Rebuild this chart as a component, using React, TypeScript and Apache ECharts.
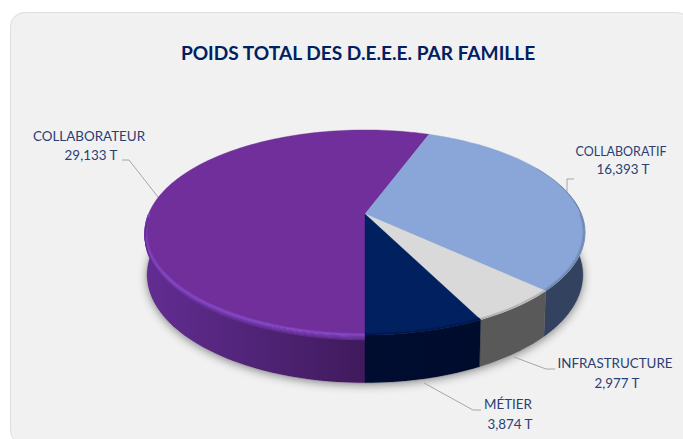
import React, { useEffect, useRef } from "react";
import * as echarts from "echarts";

const categories = ["COLLABORATEUR", "COLLABORATIF", "INFRASTRUCTURE", "MÉTIER"];
const weights = [29.133, 16.393, 2.977, 3.874];
const valueLabels = ["29,133 T", "16,393 T", "2,977 T", "3,874 T"];
const chartTitle = "POIDS TOTAL DES D.E.E.E. PAR FAMILLE";

const topColors = ["#702f9a", "#8aa6d8", "#d9d9d9", "#002060"];
const rimColors = ["#8a4ccb", "#5f7396", "#9a9a9a", "#001040"];
const sideLeft = ["#622d92", "#33435f", "#595959", "#000d30"];
const sideRight = ["#3f1a5c", "#33435f", "#595959", "#000c2c"];

const labelAnchors = [
  { xs: [89, 91], ys: [136, 155], sizes: [13.4, 13.4] },
  { xs: [621, 623], ys: [151, 169], sizes: [12.5, 13.4] },
  { xs: [615, 617], ys: [363, 383], sizes: [13.4, 13.4] },
  { xs: [508, 510], ys: [404, 424], sizes: [13.4, 13.4] },
];
const leaders = [
  [[122, 160], [129, 160], [158, 197]],
  [[567, 192], [567, 179], [574, 179]],
  [[514, 357], [546, 369], [555, 369]],
  [[424, 383], [473, 410], [481, 410]],
];

const CX = 365;
const K = 0.18;
const TOP = { a: 216.5, b: 99.2, y0: 214 };
const BOTTOM = { a: 214.4, b: 104.4, y0: 255.5 };

function project(deg: number, r: number, h: number): number[] {
  const t = (deg * Math.PI) / 180;
  const u = Math.sin(t) * r;
  const v = Math.cos(t) * r;
  const w = 1 + K * v;
  const a = TOP.a + (BOTTOM.a - TOP.a) * h;
  const b = TOP.b + (BOTTOM.b - TOP.b) * h;
  const y0 = TOP.y0 + (BOTTOM.y0 - TOP.y0) * h;
  return [CX + (a * u) / w, y0 - (b * v) / w];
}

function arc(from: number, to: number, r: number, h: number): number[][] {
  const n = Math.max(2, Math.ceil(Math.abs(to - from) / 1.5));
  const pts: number[][] = [];
  for (let i = 0; i <= n; i++) pts.push(project(from + ((to - from) * i) / n, r, h));
  return pts;
}

function hex(c: string): number[] {
  return [1, 3, 5].map((i) => parseInt(c.slice(i, i + 2), 16));
}
function mix(c1: string, c2: string, f: number): string {
  const a = hex(c1);
  const b = hex(c2);
  return `rgb(${a.map((v, i) => Math.round(v + (b[i] - v) * f)).join(",")})`;
}

const total = weights.reduce((s, v) => s + v, 0);
const rows = weights.map((w, i) => {
  const before = weights.slice(0, i).reduce((s, v) => s + v, 0);
  return [i, before / total, (before + w) / total];
});

function renderSlice(params: any, api: any) {
  const i = api.value(0);
  // Slices run clockwise from straight down (180 degrees).
  const from = 180 + api.value(1) * 360;
  const to = 180 + api.value(2) * 360;
  const children: any[] = [];

  // Visible side wall: the front half of the disc, 90..270 degrees (or 450..630).
  const ranges: number[][] = [];
  for (const off of [0, 360]) {
    const s = Math.max(from, 90 + off);
    const e = Math.min(to, 270 + off);
    if (e > s) ranges.push([s, e]);
  }
  for (const [s, e] of ranges) {
    const pts = [...arc(s, e, 1, 0), ...arc(e, s, 1, 1)];
    children.push({
      type: "polygon",
      shape: { points: pts },
      style: {
        fill: new echarts.graphic.LinearGradient(0, 0, 1, 0, [
          { offset: 0, color: sideLeft[i] },
          { offset: 1, color: sideRight[i] },
        ]),
        stroke: sideRight[i],
        lineWidth: 0.3,
      },
    });
  }

  // Top face.
  const top = [project(0, 0, 0), ...arc(from, to, 1, 0)];
  children.push({
    type: "polygon",
    shape: { points: top },
    style: { fill: topColors[i], stroke: topColors[i], lineWidth: 0.4 },
  });

  // Faint rim that carries on past the silhouette's widest points.
  const backRims: number[][] = i === 1 ? [[60, 90], [72, 90], [82, 90]] : [];
  for (const [s, e] of backRims) {
    children.push({
      type: "polyline",
      shape: { points: arc(s, e, 0.998, 0) },
      style: { fill: "none", stroke: rimColors[i], lineWidth: 1, opacity: 0.45 },
    });
  }

  // Soft bevel along the front rim.
  const steps = 8;
  for (const [s, e] of ranges) {
    for (let n = 0; n <= steps; n++) {
      const f = n / steps;
      const r = f < 0.35 ? 0.985 + (0.015 * f) / 0.35 : 1;
      const h = f < 0.35 ? 0 : ((f - 0.35) / 0.65) * 0.1;
      const side = mix(sideLeft[i], sideRight[i], 0.5);
      const color =
        f < 0.35
          ? mix(topColors[i], rimColors[i], f / 0.35)
          : i === 0
          ? mix(rimColors[i], sideLeft[i], (f - 0.35) / 0.65)
          : mix(rimColors[i], side, (f - 0.35) / 0.65);
      children.push({
        type: "polyline",
        shape: { points: arc(s, e, r, h) },
        style: { fill: "none", stroke: color, lineWidth: 1.1 },
      });
    }
  }

  // Leader line and two-line label.
  children.push({
    type: "polyline",
    shape: { points: leaders[i] },
    style: { fill: "none", stroke: "#a6a6a6", lineWidth: 1 },
  });
  [categories[i], valueLabels[i]].forEach((text, n) => {
    children.push({
      type: "text",
      x: labelAnchors[i].xs[n],
      y: labelAnchors[i].ys[n],
      style: {
        text,
        fill: "#2b3f73",
        font: `${labelAnchors[i].sizes[n]}px Lato`,
        align: "center",
        verticalAlign: "middle",
      },
    });
  });
  return { type: "group", children };
}

function renderShadow() {
  return {
    type: "polygon",
    shape: { points: arc(0, 360, 1, 1) },
    style: {
      fill: "#cfcfcf",
      shadowBlur: 10,
      shadowColor: "rgba(0,0,0,0.45)",
      shadowOffsetY: 2,
    },
  };
}

export default function App() {
  const ref = useRef<HTMLDivElement>(null);
  useEffect(() => {
    document.body.style.margin = "0";
    const chart = echarts.init(ref.current!, undefined, { renderer: "svg" });
    chart.setOption({
      animation: false,
      backgroundColor: "#ffffff",
      title: {
        text: chartTitle,
        left: 353,
        top: 38,
        textAlign: "center",
        textStyle: { color: "#002060", fontFamily: "Lato", fontWeight: "bold", fontSize: 19.1 },
      },
      graphic: [
        {
          type: "rect",
          z: -1,
          shape: { x: 10.5, y: 12.5, width: 680, height: 432, r: 14 },
          style: { fill: "#f1f1f1", stroke: "#dedede", lineWidth: 1 },
        },
      ],
      series: [
        {
          type: "custom",
          coordinateSystem: "none",
          silent: true,
          z: 1,
          data: [[total]],
          renderItem: renderShadow,
        },
        {
          type: "custom",
          coordinateSystem: "none",
          silent: true,
          z: 2,
          data: rows,
          renderItem: renderSlice,
        },
      ],
    });
    return () => chart.dispose();
  }, []);
  return <div ref={ref} style={{ width: 683, height: 439 }} />;
}
